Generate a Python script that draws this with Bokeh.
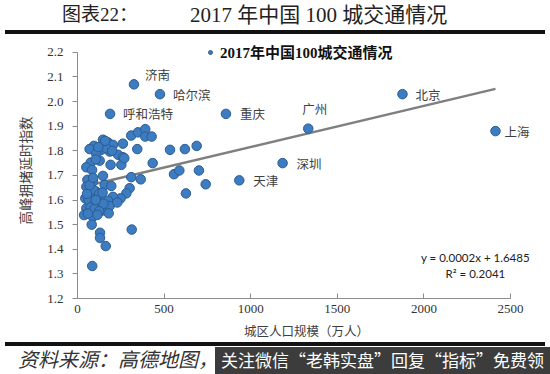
from bokeh.plotting import figure
from bokeh.models import (ColumnDataSource, FixedTicker, NumeralTickFormatter, Div,
                          Legend, LegendItem)
from bokeh.layouts import column
from bokeh.core.properties import value
from bokeh.embed import file_html
from bokeh.resources import INLINE

# ---- data ----
other_pop = [310, 349, 391, 391, 428, 345, 534, 620, 688, 147, 176, 205, 262, 95, 70, 137,
             186, 108, 168, 234, 262, 128, 76, 191, 253, 270, 434, 51, 84, 147, 310, 365,
             57, 89, 157, 195, 51, 80, 108, 301, 282, 249, 205, 45, 61, 99, 137, 176, 70,
             118, 157, 186, 51, 89, 137, 180, 38, 89, 82, 313, 130, 130, 163, 85, 557, 588,
             701, 740, 626, 160, 120, 200, 105, 65, 110, 150, 75, 100, 125, 60, 115, 95, 70,
             125, 90, 55, 230, 145, 105]
other_idx = [1.862, 1.875, 1.888, 1.858, 1.858, 1.807, 1.804, 1.807, 1.82, 1.845, 1.834, 1.824,
             1.829, 1.82, 1.807, 1.804, 1.797, 1.788, 1.81, 1.784, 1.774, 1.76, 1.752, 1.743,
             1.743, 1.77, 1.75, 1.733, 1.722, 1.698, 1.693, 1.684, 1.682, 1.675, 1.661, 1.657,
             1.654, 1.641, 1.634, 1.648, 1.627, 1.607, 1.613, 1.607, 1.62, 1.611, 1.6, 1.597,
             1.586, 1.576, 1.57, 1.576, 1.566, 1.553, 1.556, 1.546, 1.539, 1.532, 1.5, 1.48,
             1.467, 1.446, 1.413, 1.332, 1.705, 1.72, 1.72, 1.664, 1.627, 1.84, 1.815, 1.8,
             1.765, 1.6, 1.59, 1.585, 1.57, 1.565, 1.555, 1.545, 1.54, 1.64, 1.66, 1.625, 1.69,
             1.625, 1.59, 1.63, 1.6]

cities = ["济南", "哈尔滨", "呼和浩特", "重庆", "广州", "北京", "上海", "深圳", "天津"]
city_pop = [326, 476, 188, 857, 1332, 1876, 2413, 1184, 934]
city_idx = [2.07, 2.03, 1.95, 1.95, 1.89, 2.03, 1.88, 1.75, 1.68]
label_dx = [11, 13, 13, 14, -6, 13, 9, 14, 14]
label_dy = [-10, 0, 0, 0, -20, 0, 0, 0, 0]

trend_slope = 0.000167
trend_intercept = 1.6485
eq_text = ["y = 0.0002x + 1.6485", "R² = 0.2041"]

x_ticks = [0, 500, 1000, 1500, 2000, 2500]
y_ticks = [1.2, 1.3, 1.4, 1.5, 1.6, 1.7, 1.8, 1.9, 2.0, 2.1, 2.2]

header_left = "图表22："
header_title = "2017 年中国 100 城交通情况"
series_name = "2017年中国100城交通情况"
x_title = "城区人口规模（万人）"
y_title = "高峰拥堵延时指数"
source_note = "资料来源：高德地图，"
banner_note = "关注微信“老韩实盘”回复“指标”免费领"

W = 550
HEAD_H, FIG_H, FOOT_H = 35, 307, 32

SERIF_CJK = "'Liberation Serif', 'Noto Sans CJK SC', serif"

# ---- header: text plus a thick rule drawn as an inner block ----
header = Div(width=W, height=HEAD_H, margin=(0, 0, 0, 0), text=(
    f'<div style="position:relative;width:{W}px;height:{HEAD_H}px;">'
    f'<div style="position:absolute;left:5px;top:30px;width:540px;height:4px;'
    f'background:rgba(10,10,10,0.97);"></div>'
    f'<span style="position:absolute;left:62px;top:1px;font-family:{SERIF_CJK};'
    f'font-size:19px;color:#222;white-space:nowrap;">{header_left}</span>'
    f'<span style="position:absolute;left:190px;top:0px;font-family:{SERIF_CJK};'
    f'font-size:21px;color:#222;white-space:nowrap;">{header_title}</span>'
    f'</div>'))

# ---- figure ----
p = figure(width=W, height=FIG_H, output_backend="svg", toolbar_location=None,
           x_range=(0, 2644), y_range=(1.2, 2.24),
           min_border_left=77, min_border_right=15,
           min_border_top=7, min_border_bottom=44, margin=(0, 0, 0, 0))
p.outline_line_color = None
p.xgrid.visible = False
p.ygrid.visible = False
p.background_fill_color = "white"
p.border_fill_color = "white"

for ax in (p.xaxis[0], p.yaxis[0]):
    ax.axis_line_color = "#8c8c8c"
    ax.major_tick_line_color = "#8c8c8c"
    ax.minor_tick_line_color = None
    ax.major_label_text_font = "Liberation Serif"
    ax.major_label_text_font_size = "13px"
    ax.major_label_text_color = "#333333"
    ax.axis_label_text_font = "Noto Sans CJK SC"
    ax.axis_label_text_font_style = "normal"
    ax.axis_label_text_color = "#404040"

p.xaxis.bounds = (0, 2500)
p.yaxis.bounds = (1.2, 2.2)
p.xaxis.ticker = FixedTicker(ticks=x_ticks)
p.yaxis.ticker = FixedTicker(ticks=y_ticks)
p.yaxis.formatter = NumeralTickFormatter(format="0.0")
p.xaxis.major_tick_in = 5
p.xaxis.major_tick_out = 0
p.yaxis.major_tick_in = 0
p.yaxis.major_tick_out = 5
p.xaxis.major_label_standoff = 6
p.yaxis.major_label_standoff = 9
p.xaxis.axis_label = x_title
p.yaxis.axis_label = y_title
p.xaxis.axis_label_text_font_size = "12.5px"
p.yaxis.axis_label_text_font_size = "13.5px"
p.xaxis.axis_label_standoff = 5
p.yaxis.axis_label_standoff = 9

# trend line
xs_all = other_pop + city_pop
x0, x1 = min(xs_all), max(xs_all)
trend = ColumnDataSource(dict(x=[x0, x1],
                              y=[trend_intercept + trend_slope * x0,
                                 trend_intercept + trend_slope * x1]))
p.line("x", "y", source=trend, line_color="#7f7f7f", line_width=2.5)

# scatter
pts = ColumnDataSource(dict(x=xs_all, y=other_idx + city_idx))
r = p.scatter("x", "y", source=pts, size=9.5, fill_color="#3d7cc0",
              line_color="#2a5d94", line_width=1)

# city labels
lab = ColumnDataSource(dict(x=city_pop, y=city_idx, t=cities, dx=label_dx, dy=label_dy))
p.text("x", "y", text="t", source=lab, x_offset="dx", y_offset="dy",
       text_font=value("Noto Sans CJK SC"), text_font_size="12.5px",
       text_color="#404040", text_baseline="middle", text_align="left")

# equation text
eq = ColumnDataSource(dict(x=[2297, 2297], y=[1.365, 1.300], t=eq_text))
p.text("x", "y", text="t", source=eq, text_font=value("Lato"), text_font_size="11.5px",
       text_color="#222222", text_baseline="middle", text_align="center")

# legend (series name, bold)
leg = Legend(items=[LegendItem(label=series_name, renderers=[r])],
             location=(128, 236), orientation="horizontal",
             label_text_font=SERIF_CJK, label_text_font_style="bold",
             label_text_font_size="15px", label_text_color="#111111",
             glyph_width=10, glyph_height=10, label_standoff=5,
             padding=0, margin=0, spacing=0,
             border_line_color=None, background_fill_alpha=0)
p.add_layout(leg, "center")

# ---- footer ----
footer = Div(width=W, height=FOOT_H, margin=(0, 0, 0, 0), text=(
    f'<div style="position:relative;width:{W}px;height:{FOOT_H}px;">'
    f'<div style="position:absolute;left:5px;top:0px;width:540px;height:4px;'
    f'background:rgba(10,10,10,0.97);"></div>'
    f'<span style="position:absolute;left:18px;top:4px;font-family:{SERIF_CJK};'
    f'font-size:20px;font-style:italic;color:#333;white-space:nowrap;">{source_note}</span>'
    f'<div style="position:absolute;left:215px;top:5px;width:335px;height:27px;'
    f'background:rgba(45,45,45,0.93);"></div>'
    f'<span style="position:absolute;left:221px;top:5px;font-family:\'Noto Sans CJK SC\';'
    f'font-size:17px;line-height:25px;color:#fff;white-space:nowrap;">{banner_note}</span>'
    f'</div>'))

layout = column(header, p, footer, spacing=0, margin=(0, 0, 0, 0))

open("out.html", "w").write(file_html(layout, INLINE))
